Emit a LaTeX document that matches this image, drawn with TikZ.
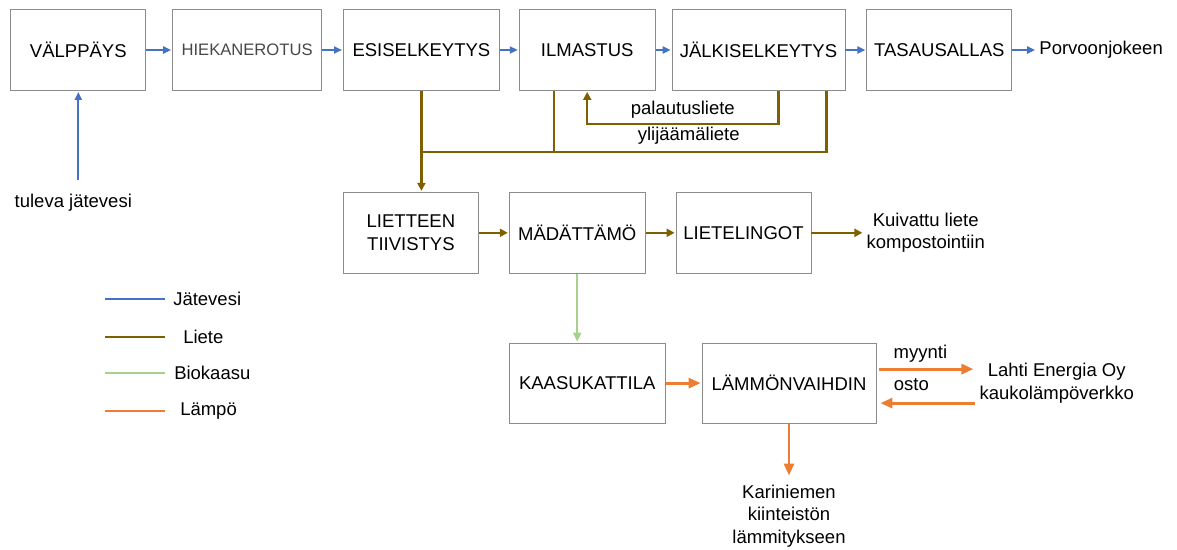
\documentclass[tikz,border=0pt]{standalone}
\usepackage{fontspec}
\setmainfont{Liberation Sans}
\usetikzlibrary{arrows.meta, positioning}

\definecolor{jatecol}{HTML}{4472C4}
\definecolor{lietecol}{HTML}{7F6000}
\definecolor{biocol}{HTML}{A9D18E}
\definecolor{lampocol}{HTML}{ED7D31}
\definecolor{boxgray}{HTML}{8C8C8C}

\begin{document}
\begin{tikzpicture}[x=1pt, y=1pt, font=\fontsize{18.5}{22.5}\selectfont]
        % Styles
        \tikzstyle{box} = [draw=boxgray, rectangle, line width=0.8pt, align=center, minimum height=81pt, inner sep=2pt]
        \tikzstyle{txt} = [align=center, inner sep=3pt, text=black]
        \tikzstyle{jate} = [draw=jatecol, line width=2pt, -{Triangle[length=8pt,width=7pt]}, shorten >=1pt]
        \tikzstyle{liete} = [draw=lietecol, line width=2.3pt]
        \tikzstyle{lietea} = [liete, -{Triangle[length=8pt,width=8pt]}, shorten >=1pt]
        \tikzstyle{bio} = [draw=biocol, line width=2pt, -{Triangle[length=9pt,width=8pt]}, shorten >=1pt]
        \tikzstyle{lampo} = [draw=lampocol, line width=2.8pt, -{Triangle[length=12pt,width=10pt]}, shorten >=1pt]
        \tikzstyle{legline} = [line width=2.5pt]

        \useasboundingbox (0,0) rectangle (1177,-549);

        % Nodes: water line
        \node[box, minimum width=135pt] (valp) at (78.3,-50) {VÄLPPÄYS};
        \node[box, minimum width=149pt, right=26pt of valp, text=black!72, font=\fontsize{16.6}{20}\selectfont] (hiek) {HIEKANEROTUS};
        \node[box, minimum width=156pt, right=21pt of hiek] (esis) {ESISELKEYTYS};
        \node[box, minimum width=136pt, right=19pt of esis] (ilm) {ILMASTUS};
        \node[box, minimum width=173pt, right=16pt of ilm] (jalk) {JÄLKISELKEYTYS};
        \node[box, minimum width=145pt, right=21pt of jalk] (tas) {TASAUSALLAS};
        \node[txt, right=24pt of tas] (porv) {Porvoonjokeen};
        \node[txt, below=100pt of valp, xshift=-5pt] (tul) {tuleva jätevesi};

        % Nodes: sludge line
        \node[box, minimum width=135pt, below=101pt of esis.south west, anchor=north west] (liet) {LIETTEEN\\TIIVISTYS};
        \node[box, minimum width=136pt, right=30pt of liet] (mad) {MÄDÄTTÄMÖ};
        \node[box, minimum width=135pt, right=30pt of mad] (lietl) {LIETELINGOT};
        \node[txt, right=52pt of lietl] (kuiv) {Kuivattu liete\\kompostointiin};

        % Nodes: gas and heat
        \node[box, minimum width=156pt, minimum height=80pt, below=69pt of mad.south west, anchor=north west] (kaas) {KAASUKATTILA};
        \node[box, minimum width=174pt, minimum height=80pt, right=36pt of kaas] (lamm) {LÄMMÖNVAIHDIN};
        \node[txt, right=100pt of lamm] (lahti) {Lahti Energia Oy\\kaukolämpöverkko};
        \node[txt, below=58pt of lamm] (kari) {Kariniemen\\kiinteistön\\lämmitykseen};

        \coordinate[below=61pt of esis.south] (split);

        % Paths: water
        \draw[jate] (valp) -- (hiek);
        \draw[jate] (hiek) -- (esis);
        \draw[jate] (esis) -- (ilm);
        \draw[jate] (ilm) -- (jalk);
        \draw[jate] (jalk) -- (tas);
        \draw[jate] (tas) -- (porv);
        \draw[jate, shorten <=11pt] (valp.south |- tul.north) -- (valp.south);

        % Paths: sludge
        \draw[liete] ([xshift=-19pt]jalk.south east) |- (split) node[txt, pos=0.67, above=3pt] (ylij) {ylijäämäliete};
        \draw[liete] ([xshift=-33pt]ilm.south) -- ([xshift=-33pt]ilm.south |- split);
        \draw[lietea] (esis.south) -- (liet.north -| esis.south);
        \draw[lietea] ([xshift=20pt]jalk.south) -- ++(0,-33.3) -| (ilm.south) node[txt, pos=0.25, above=2pt] (palaut) {palautusliete};
        \draw[lietea] (liet) -- (mad);
        \draw[lietea] (mad) -- (lietl);
        \draw[lietea] (lietl) -- (kuiv);

        % Paths: gas and heat
        \draw[bio] (mad.south) -- (kaas.north -| mad.south);
        \draw[lampo] (kaas) -- (lamm);
        \draw[lampo, shorten >=6pt] (lamm) -- (kari);
        \draw[lampo, shorten <=3pt, shorten >=3pt] ([yshift=14pt]lamm.east) -- ([yshift=14pt]lahti.west) node[txt, pos=0.44, above=2pt] (myyn) {myynti};
        \draw[lampo, shorten <=1pt, shorten >=4pt] ([yshift=-20pt]lahti.west) -- ([yshift=-20pt]lamm.east) node[txt, pos=0.65, above=8pt] (osto) {osto};

        % Legend
        \draw[legline, draw=jatecol] (105,-299) -- (165,-299) node[txt, right=4pt] (ljate) {Jätevesi};
        \draw[legline, draw=lietecol] (105,-337) -- (165,-337) node[txt, right=14pt] (lliete) {Liete};
        \draw[legline, draw=biocol] (105,-373) -- (165,-373) node[txt, right=5pt] (lbio) {Biokaasu};
        \draw[legline, draw=lampocol] (105,-411) -- (165,-411) node[txt, right=11pt] (llampo) {Lämpö};
    \end{tikzpicture}
\end{document}
